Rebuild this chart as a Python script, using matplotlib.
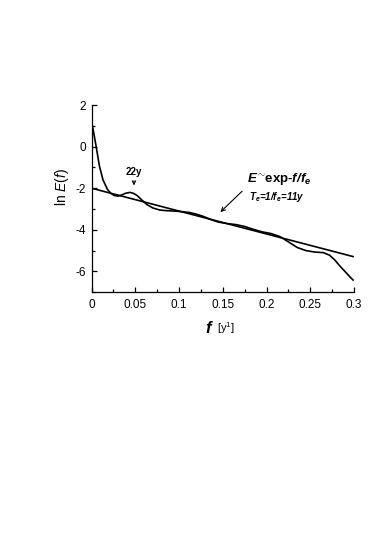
import matplotlib
matplotlib.use("Agg")
import matplotlib.pyplot as plt
from matplotlib.ticker import MultipleLocator, FixedLocator

plt.rcParams['font.family'] = ['Liberation Sans', 'DejaVu Sans']
plt.rcParams['axes.unicode_minus'] = False
plt.rcParams['mathtext.fontset'] = 'custom'
plt.rcParams['mathtext.rm'] = 'Liberation Sans'
plt.rcParams['mathtext.it'] = 'Liberation Sans:italic'
plt.rcParams['mathtext.bf'] = 'Liberation Sans:bold'
plt.rcParams['mathtext.bfit'] = 'Liberation Sans:italic:bold'

# spectrum ln E(f)
freq = [0.0, 0.002, 0.005, 0.009, 0.013, 0.018, 0.022, 0.026, 0.030, 0.034,
        0.039, 0.044, 0.048, 0.052, 0.057, 0.063, 0.070, 0.078, 0.086, 0.095,
        0.104, 0.112, 0.120, 0.128, 0.136, 0.145, 0.155, 0.165, 0.175, 0.185,
        0.195, 0.205, 0.215, 0.225, 0.235, 0.245, 0.255, 0.265, 0.272, 0.278,
        0.284, 0.290, 0.295, 0.299]
ln_E = [1.2, 0.75, 0.05, -0.95, -1.6, -2.05, -2.25, -2.35, -2.38, -2.33,
        -2.24, -2.2, -2.25, -2.35, -2.55, -2.78, -2.95, -3.05, -3.08, -3.1,
        -3.13, -3.17, -3.25, -3.36, -3.5, -3.63, -3.7, -3.75, -3.84, -3.98,
        -4.1, -4.18, -4.32, -4.58, -4.85, -5.0, -5.07, -5.1, -5.22, -5.45,
        -5.75, -6.02, -6.25, -6.42]

# exponential fit, E ~ exp(-f/fe), Te = 1/fe = 11 y
fit_f = [0.0, 0.299]
fit_lnE = [-2.0, -2.0 - 11 * 0.299]

x_ticks = [0, 0.05, 0.1, 0.15, 0.2, 0.25, 0.3]
x_labels = ['0', '0.05', '0.1', '0.15', '0.2', '0.25', '0.3']
y_ticks = [-6, -4, -2, 0, 2]

fig = plt.figure(figsize=(3.74, 5.39), dpi=100)
ax = fig.add_axes([0.245, 0.458, 0.7015, 0.347])

ax.plot(freq, ln_E, color='black', lw=1.2)
ax.plot(fit_f, fit_lnE, color='black', lw=1.2)

ax.set_xlim(0, 0.3)
ax.set_ylim(-7, 2)
ax.spines['top'].set_visible(False)
ax.spines['right'].set_visible(False)
ax.spines['left'].set_linewidth(0.9)
ax.spines['bottom'].set_linewidth(0.9)

ax.xaxis.set_major_locator(FixedLocator(x_ticks))
ax.set_xticklabels(x_labels)
ax.xaxis.set_minor_locator(MultipleLocator(0.025))
ax.yaxis.set_major_locator(FixedLocator(y_ticks))
ax.yaxis.set_minor_locator(MultipleLocator(1))
ax.tick_params(which='both', direction='in', width=0.9, labelsize=8.5)
ax.tick_params(which='major', length=3.5)
ax.tick_params(which='minor', length=2)
ax.tick_params(axis='x', pad=5)
ax.tick_params(axis='y', pad=4)

# annotations
ax.text(0.0478, -1.22, '22y', fontsize=7, fontweight='bold', ha='center', va='center')
ax.annotate('', xy=(0.0484, -2.0), xytext=(0.0484, -1.5),
            arrowprops=dict(arrowstyle='->', lw=0.8, color='black',
                            mutation_scale=6))
ax.text(0.178, -1.72,
        r'$\mathbfit{E}^{\sim}\!\mathbf{exp}$-$\mathbfit{f/f}_{\mathbfit{e}}$',
        fontsize=9.5, fontweight='bold', va='baseline', ha='left')
ax.text(0.180, -2.55, r'$\mathbfit{T}_{\mathbfit{e}}$=1/$\mathbfit{f}_{\mathbfit{e}}$=11y',
        fontsize=7, fontweight='bold', fontstyle='italic', va='baseline', ha='left')
ax.annotate('', xy=(0.1449, -3.24), xytext=(0.1744, -2.05),
            arrowprops=dict(arrowstyle='->', lw=0.8, color='black',
                            mutation_scale=7))

# axis labels
fig.text(61.7 / 374, 1 - 187 / 539, r'ln $\mathit{E(f)}$', rotation=90,
         fontsize=10, ha='center', va='center')
fig.text(209 / 374, 1 - 328 / 539, r'$\mathbfit{f}$', fontsize=12,
         ha='center', va='center')
fig.text(226 / 374, 1 - 328 / 539, r'[y$^{1}$]', fontsize=8,
         ha='center', va='center')

fig.savefig('out.png', dpi=100)
